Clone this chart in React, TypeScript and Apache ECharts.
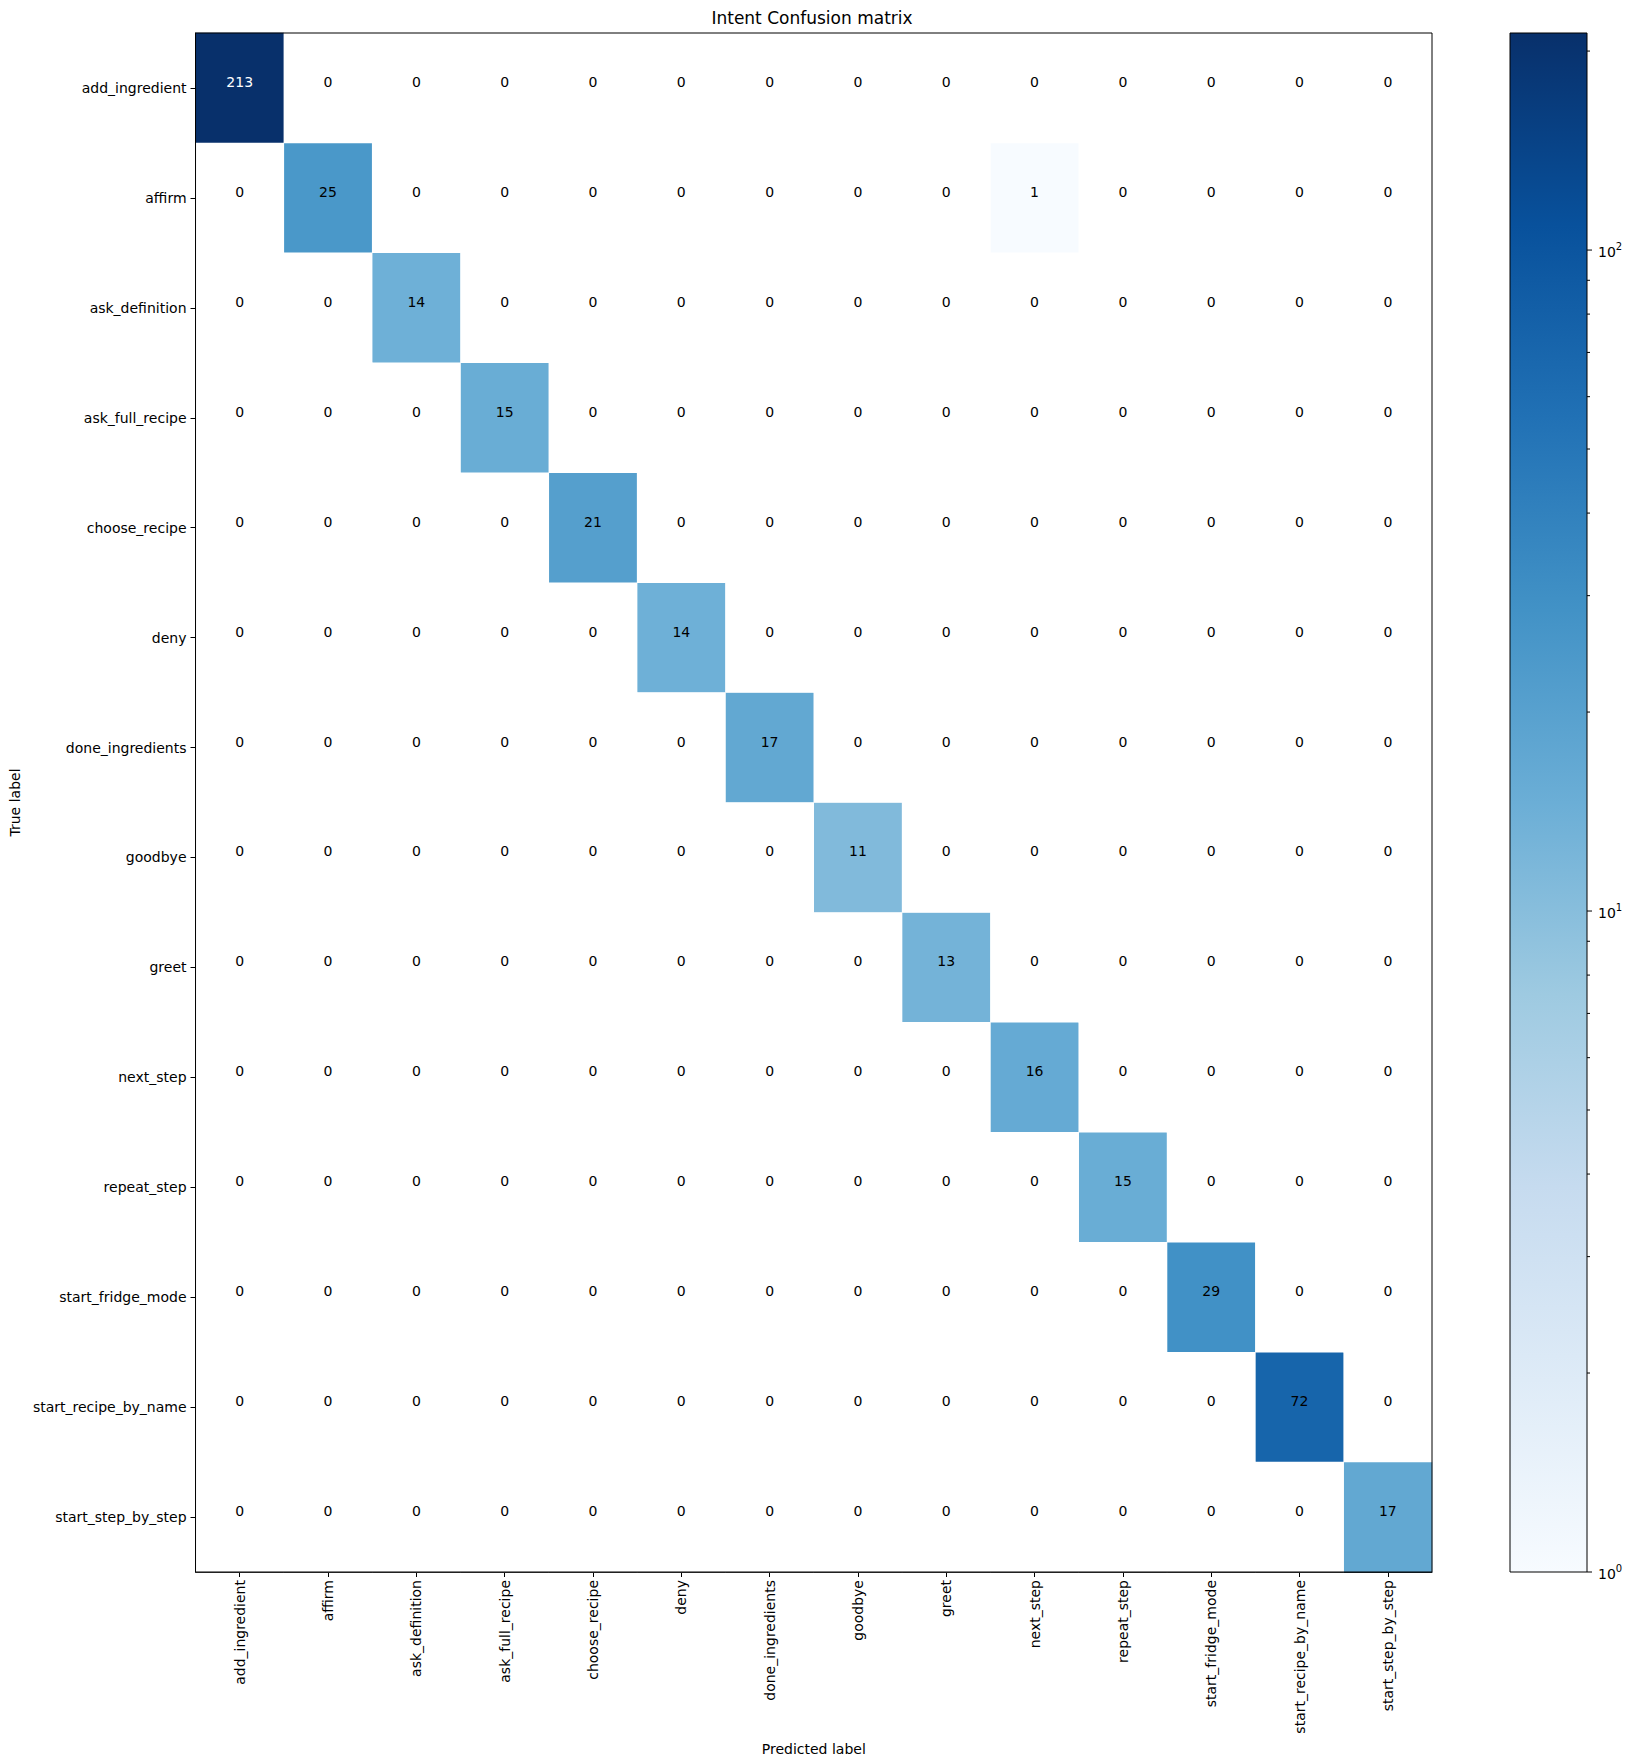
import React, { useEffect, useRef } from 'react';
import * as echarts from 'echarts';

const intents = [
  'add_ingredient',
  'affirm',
  'ask_definition',
  'ask_full_recipe',
  'choose_recipe',
  'deny',
  'done_ingredients',
  'goodbye',
  'greet',
  'next_step',
  'repeat_step',
  'start_fridge_mode',
  'start_recipe_by_name',
  'start_step_by_step',
];

// rows = true label, columns = predicted label
const matrix = [
  [213, 0, 0, 0, 0, 0, 0, 0, 0, 0, 0, 0, 0, 0],
  [0, 25, 0, 0, 0, 0, 0, 0, 0, 1, 0, 0, 0, 0],
  [0, 0, 14, 0, 0, 0, 0, 0, 0, 0, 0, 0, 0, 0],
  [0, 0, 0, 15, 0, 0, 0, 0, 0, 0, 0, 0, 0, 0],
  [0, 0, 0, 0, 21, 0, 0, 0, 0, 0, 0, 0, 0, 0],
  [0, 0, 0, 0, 0, 14, 0, 0, 0, 0, 0, 0, 0, 0],
  [0, 0, 0, 0, 0, 0, 17, 0, 0, 0, 0, 0, 0, 0],
  [0, 0, 0, 0, 0, 0, 0, 11, 0, 0, 0, 0, 0, 0],
  [0, 0, 0, 0, 0, 0, 0, 0, 13, 0, 0, 0, 0, 0],
  [0, 0, 0, 0, 0, 0, 0, 0, 0, 16, 0, 0, 0, 0],
  [0, 0, 0, 0, 0, 0, 0, 0, 0, 0, 15, 0, 0, 0],
  [0, 0, 0, 0, 0, 0, 0, 0, 0, 0, 0, 29, 0, 0],
  [0, 0, 0, 0, 0, 0, 0, 0, 0, 0, 0, 0, 72, 0],
  [0, 0, 0, 0, 0, 0, 0, 0, 0, 0, 0, 0, 0, 17],
];

// matplotlib "Blues"
const blues = ['#f7fbff', '#deebf7', '#c6dbef', '#9ecae1', '#6baed6', '#4292c6', '#2171b5', '#08519c', '#08306b'];

const colorbarMajor = [1, 10, 100];
const colorbarMinor = [2, 3, 4, 5, 6, 7, 8, 9, 20, 30, 40, 50, 60, 70, 80, 90, 200];

const FONT = 'DejaVu Sans';
const FS = 14;

export default function App() {
  const ref = useRef<HTMLDivElement>(null);

  useEffect(() => {
    document.body.style.margin = '0';
    if (!ref.current) return;
    const chart = echarts.init(ref.current, null, { renderer: 'svg' });

    const vmax = Math.max(...matrix.flat());
    const logMax = Math.log10(vmax);
    const thresh = vmax / 2;

    // non-zero cells go through the log colour scale, zeros stay blank (LogNorm masks them)
    const filled: any[] = [];
    const blank: any[] = [];
    matrix.forEach((row, i) => {
      row.forEach((v, j) => {
        if (v > 0) {
          filled.push({
            value: [j, i, Math.log10(v), v],
            label: { color: v > thresh ? '#ffffff' : '#000000' },
          });
        } else {
          blank.push({ value: [j, i, 0, v] });
        }
      });
    });

    // [value, tick length, is major]
    const tickData = [
      ...colorbarMajor.map((v) => [v, 5, 1]),
      ...colorbarMinor.map((v) => [v, 3, 0]),
    ];

    const axisCommon = {
      axisLine: { show: true, lineStyle: { color: '#000', width: 1 } },
      axisTick: { show: true, alignWithLabel: true, length: 5, lineStyle: { color: '#000' } },
      splitLine: { show: false },
      splitArea: { show: false },
    };

    const cellLabel = {
      show: true,
      fontSize: FS,
      fontFamily: FONT,
      color: '#000',
      offset: [0, -6],
      formatter: (p: any) => String(p.value[3]),
    };

    chart.setOption({
      animation: false,
      backgroundColor: '#ffffff',
      textStyle: { fontFamily: FONT },
      graphic: [
        {
          type: 'text',
          x: 812,
          y: 18,
          style: {
            text: 'Intent Confusion matrix',
            fontFamily: FONT,
            fontSize: 17,
            fill: '#000',
            textAlign: 'center',
            textVerticalAlign: 'middle',
          },
        },
      ],
      grid: [
        { left: 192, top: 33, width: 1240, height: 1539, show: true, z: 10, borderColor: '#000', borderWidth: 1, backgroundColor: 'transparent' },
        {
          left: 1510,
          top: 33,
          width: 77,
          height: 1539,
          show: true,
          borderColor: '#000',
          borderWidth: 1,
          backgroundColor: new echarts.graphic.LinearGradient(
            0, 0, 0, 1,
            blues.slice().reverse().map((c, k) => ({ offset: k / (blues.length - 1), color: c }))
          ),
        },
      ],
      xAxis: [
        {
          ...axisCommon,
          gridIndex: 0,
          type: 'category',
          data: intents,
          position: 'bottom',
          axisLabel: { rotate: 90, interval: 0, fontSize: FS, color: '#000', margin: 8, fontFamily: FONT },
          name: 'Predicted label',
          nameLocation: 'middle',
          nameGap: 166,
          nameTextStyle: { fontSize: FS, color: '#000', fontFamily: FONT },
        },
        { gridIndex: 1, type: 'value', min: 0, max: 1, show: false },
      ],
      yAxis: [
        {
          ...axisCommon,
          gridIndex: 0,
          type: 'category',
          data: intents,
          inverse: true,
          axisLabel: { interval: 0, fontSize: FS, color: '#000', margin: 9, fontFamily: FONT, padding: [0, 0, 4, 0] },
          name: 'True label',
          nameLocation: 'middle',
          nameGap: 171,
          nameTextStyle: { fontSize: FS, color: '#000', fontFamily: FONT },
        },
        {
          gridIndex: 1,
          type: 'log',
          logBase: 10,
          min: 1,
          max: vmax,
          show: false,
        },
      ],
      visualMap: [
        {
          type: 'continuous',
          show: false,
          seriesIndex: 0,
          dimension: 2,
          min: 0,
          max: logMax,
          inRange: { color: blues },
        },
        {
          type: 'continuous',
          show: false,
          seriesIndex: 1,
          dimension: 2,
          min: 0,
          max: 1,
          inRange: { color: ['#ffffff', '#ffffff'] },
        },
      ],
      series: [
        {
          type: 'heatmap',
          xAxisIndex: 0,
          yAxisIndex: 0,
          data: filled,
          itemStyle: { borderWidth: 0 },
          emphasis: { disabled: true },
          label: cellLabel,
        },
        {
          type: 'heatmap',
          xAxisIndex: 0,
          yAxisIndex: 0,
          data: blank,
          itemStyle: { borderWidth: 0 },
          emphasis: { disabled: true },
          label: cellLabel,
        },
        {
          // colorbar ticks and 10^n labels on the log axis
          type: 'custom',
          xAxisIndex: 1,
          yAxisIndex: 1,
          clip: false,
          silent: true,
          z: 5,
          data: tickData,
          renderItem: (params: any, api: any) => {
            const v = api.value(0);
            const p = api.coord([1, v]);
            const len = api.value(1);
            const children: any[] = [
              {
                type: 'line',
                shape: { x1: p[0], y1: p[1], x2: p[0] + len, y2: p[1] },
                style: { stroke: '#000', lineWidth: 1 },
              },
            ];
            if (api.value(2) === 1) {
              children.push({
                type: 'text',
                x: p[0] + 11,
                y: p[1] + 2,
                style: {
                  text: `{b|10}{s|${Math.round(Math.log10(v))}}`,
                  textAlign: 'left',
                  textVerticalAlign: 'middle',
                  fill: '#000',
                  rich: {
                    b: { fontSize: FS, fontFamily: FONT, fill: '#000', lineHeight: 22 },
                    s: { fontSize: 10, fontFamily: FONT, fill: '#000', verticalAlign: 'top', lineHeight: 22, padding: [0, 0, 8, 0] },
                  },
                },
              });
            }
            return { type: 'group', children };
          },
        },
      ],
    });

    return () => {
      chart.dispose();
    };
  }, []);

  return <div ref={ref} style={{ width: '1631px', height: '1764px' }} />;
}
